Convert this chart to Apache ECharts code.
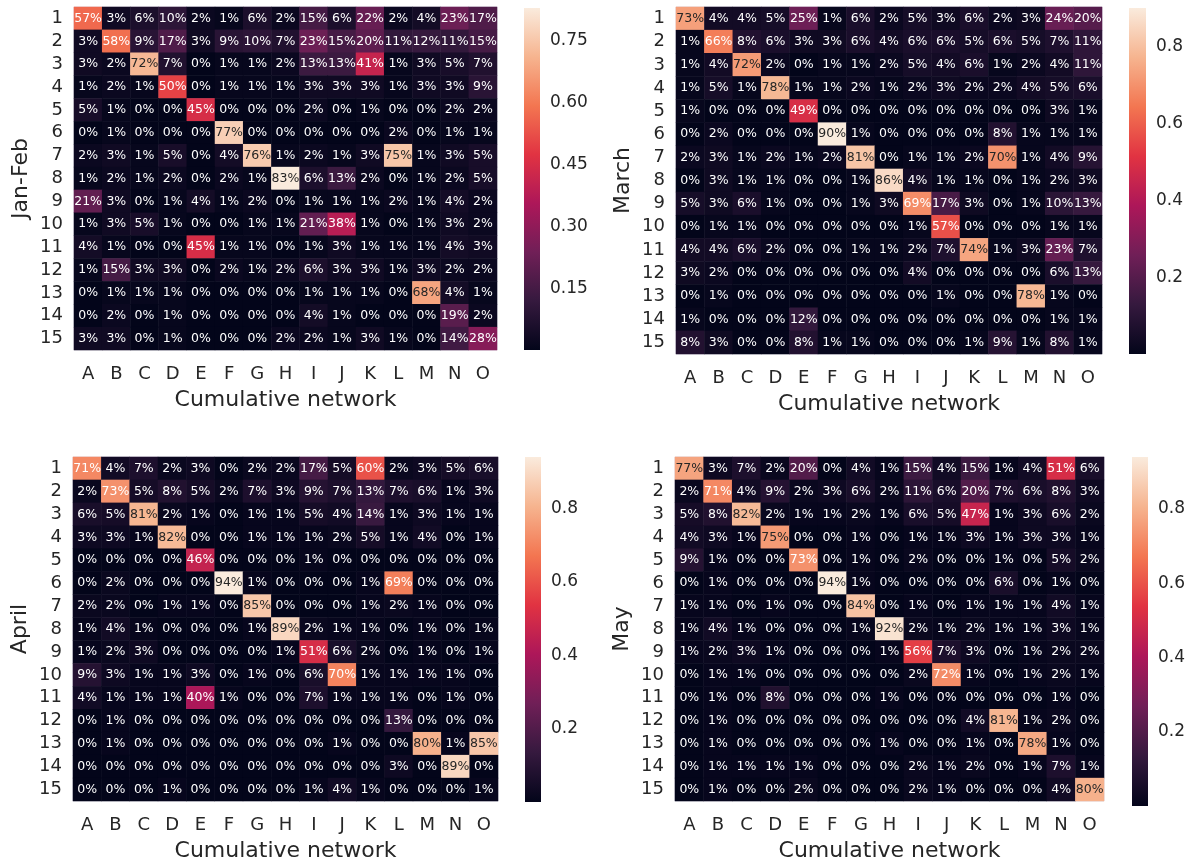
<!DOCTYPE html>
<html><head><meta charset="utf-8">
<script src="https://cdn.jsdelivr.net/npm/echarts@6/dist/echarts.min.js"></script>
<style>html,body{margin:0;padding:0;background:#fff}#c{width:1194px;height:863px}</style>
</head><body><div id="c"></div>
<script>
const xCats = ['A','B','C','D','E','F','G','H','I','J','K','L','M','N','O'];
const yCats = ['1','2','3','4','5','6','7','8','9','10','11','12','13','14','15'];
const xTitle = 'Cumulative network';

const janFeb = [
 [57,3,6,10,2,1,6,2,15,6,22,2,4,23,17],
 [3,58,9,17,3,9,10,7,23,15,20,11,12,11,15],
 [3,2,72,7,0,1,1,2,13,13,41,1,3,5,7],
 [1,2,1,50,0,1,1,1,3,3,3,1,3,3,9],
 [5,1,0,0,45,0,0,0,2,0,1,0,0,2,2],
 [0,1,0,0,0,77,0,0,0,0,0,2,0,1,1],
 [2,3,1,5,0,4,76,1,2,1,3,75,1,3,5],
 [1,2,1,2,0,2,1,83,6,13,2,0,1,2,5],
 [21,3,0,1,4,1,2,0,1,1,1,2,1,4,2],
 [1,3,5,1,0,0,1,1,21,38,1,0,1,3,2],
 [4,1,0,0,45,1,1,0,1,3,1,1,1,4,3],
 [1,15,3,3,0,2,1,2,6,3,3,1,3,2,2],
 [0,1,1,1,0,0,0,0,1,1,1,0,68,4,1],
 [0,2,0,1,0,0,0,0,4,1,0,0,0,19,2],
 [3,3,0,1,0,0,0,2,2,1,3,1,0,14,28]
];
const march = [
 [73,4,4,5,25,1,6,2,5,3,6,2,3,24,20],
 [1,66,8,6,3,3,6,4,6,6,5,6,5,7,11],
 [1,4,72,2,0,1,1,2,5,4,6,1,2,4,11],
 [1,5,1,78,1,1,2,1,2,3,2,2,4,5,6],
 [1,0,0,0,49,0,0,0,0,0,0,0,0,3,1],
 [0,2,0,0,0,90,1,0,0,0,0,8,1,1,1],
 [2,3,1,2,1,2,81,0,1,1,2,70,1,4,9],
 [0,3,1,1,0,0,1,86,4,1,1,0,1,2,3],
 [5,3,6,1,0,0,1,3,69,17,3,0,1,10,13],
 [0,1,1,0,0,0,0,0,1,57,0,0,0,1,1],
 [4,4,6,2,0,0,1,1,2,7,74,1,3,23,7],
 [3,2,0,0,0,0,0,0,4,0,0,0,0,6,13],
 [0,1,0,0,0,0,0,0,0,1,0,0,78,1,0],
 [1,0,0,0,12,0,0,0,0,0,0,0,0,1,1],
 [8,3,0,0,8,1,1,0,0,0,1,9,1,8,1]
];
const april = [
 [71,4,7,2,3,0,2,2,17,5,60,2,3,5,6],
 [2,73,5,8,5,2,7,3,9,7,13,7,6,1,3],
 [6,5,81,2,1,0,1,1,5,4,14,1,3,1,1],
 [3,3,1,82,0,0,1,1,1,2,5,1,4,0,1],
 [0,0,0,0,46,0,0,0,1,0,0,0,0,0,0],
 [0,2,0,0,0,94,1,0,0,0,1,69,0,0,0],
 [2,2,0,1,1,0,85,0,0,0,1,2,1,0,0],
 [1,4,1,0,0,0,1,89,2,1,1,0,1,0,1],
 [1,2,3,0,0,0,0,1,51,6,2,0,1,0,1],
 [9,3,1,1,3,0,1,0,6,70,1,1,1,1,0],
 [4,1,1,1,40,1,0,0,7,1,1,1,0,1,0],
 [0,1,0,0,0,0,0,0,0,0,0,13,0,0,0],
 [0,1,0,0,0,0,0,0,0,1,0,0,80,1,85],
 [0,0,0,0,0,0,0,0,0,0,0,3,0,89,0],
 [0,0,0,1,0,0,0,0,1,4,1,0,0,0,1]
];
const may = [
 [77,3,7,2,20,0,4,1,15,4,15,1,4,51,6],
 [2,71,4,9,2,3,6,2,11,6,20,7,6,8,3],
 [5,8,82,2,1,1,2,1,6,5,47,1,3,6,2],
 [4,3,1,75,0,0,1,0,1,1,3,1,3,3,1],
 [9,1,0,0,73,0,1,0,2,0,0,1,0,5,2],
 [0,1,0,0,0,94,1,0,0,0,0,6,0,1,0],
 [1,1,0,1,0,0,84,0,1,0,1,1,1,4,1],
 [1,4,1,0,0,0,1,92,2,1,2,1,1,3,1],
 [1,2,3,1,0,0,0,1,56,7,3,0,1,2,2],
 [0,1,1,0,0,0,0,0,2,72,1,0,1,2,1],
 [0,1,0,8,0,0,0,1,0,0,0,0,0,1,0],
 [0,1,0,0,0,0,0,0,0,0,4,81,1,2,0],
 [0,1,0,0,0,0,0,1,0,0,1,0,78,1,0],
 [0,1,1,1,1,0,0,0,2,1,2,0,1,7,1],
 [0,1,0,0,2,0,0,0,2,1,0,0,0,4,80]
];
const ticksJanFeb = [0.15, 0.30, 0.45, 0.60, 0.75];
const ticksOther = [0.2, 0.4, 0.6, 0.8];

const rocket = ['#03051A','#35193E','#701F57','#AD1759','#E13342','#F37651','#F6B48F','#FAEBDD'];
function hex2rgb(h){return [parseInt(h.substr(1,2),16),parseInt(h.substr(3,2),16),parseInt(h.substr(5,2),16)];}
const rocketRGB = rocket.map(hex2rgb);
function cmap(t){
  t = Math.max(0, Math.min(1, t));
  const p = t*(rocketRGB.length-1); const i = Math.min(Math.floor(p), rocketRGB.length-2); const f = p-i;
  return rocketRGB[i].map((c,k)=>c+(rocketRGB[i+1][k]-c)*f);
}
function lum(rgb){
  const l = rgb.map(c=>{c/=255; return c<=0.03928? c/12.92 : Math.pow((c+0.055)/1.055,2.4);});
  return 0.2126*l[0]+0.7152*l[1]+0.0722*l[2];
}
const FONT = 'DejaVu Sans';
const TXT = '#262626';

const panels = [
  {name:'Jan-Feb', data:janFeb, ticks:ticksJanFeb, dec:2, g:{left:74,top:7,width:423,height:343}, cb:{left:524,top:8,width:16,height:342}},
  {name:'March', data:march, ticks:ticksOther, dec:1, g:{left:676,top:7,width:426,height:347}, cb:{left:1129,top:8,width:17,height:346}},
  {name:'April', data:april, ticks:ticksOther, dec:1, g:{left:73,top:457,width:425,height:345}, cb:{left:525,top:457,width:16,height:345}},
  {name:'May', data:may, ticks:ticksOther, dec:1, g:{left:675,top:457,width:429,height:349}, cb:{left:1132,top:457,width:16,height:349}}
];

const grid=[], xAxis=[], yAxis=[], series=[], visualMap=[];
panels.forEach((P, k)=>{
  const flat = P.data.flat();
  const vmin = Math.min(...flat), vmax = Math.max(...flat);
  grid.push(Object.assign({show:true, borderColor:'#dcd8e4', borderWidth:1, backgroundColor:'transparent'}, P.g));
  grid.push(Object.assign({show:false}, P.cb));
  const hi = 2*k, ci = 2*k+1;
  xAxis.push({gridIndex:hi, type:'category', data:xCats, axisLine:{show:false}, axisTick:{show:false}, splitLine:{show:false},
    axisLabel:{interval:0, hideOverlap:false, fontFamily:FONT, fontSize:18, color:TXT, margin:15},
    name:xTitle, nameLocation:'middle', nameGap:39, nameTextStyle:{fontFamily:FONT, fontSize:22, color:TXT}});
  yAxis.push({gridIndex:hi, type:'category', data:yCats, inverse:true, axisLine:{show:false}, axisTick:{show:false}, splitLine:{show:false},
    axisLabel:{interval:0, hideOverlap:false, fontFamily:FONT, fontSize:18, color:TXT, margin:11},
    name:P.name, nameLocation:'middle', nameGap:42, nameRotate:90, nameTextStyle:{fontFamily:FONT, fontSize:22, color:TXT}});
  xAxis.push({gridIndex:ci, type:'value', min:0, max:1, show:false});
  yAxis.push({gridIndex:ci, type:'value', min:vmin/100, max:vmax/100, position:'right', axisLine:{show:false}, splitLine:{show:false},
    axisTick:{show:true, length:5, lineStyle:{color:TXT}, customValues:P.ticks},
    axisLabel:{fontFamily:FONT, fontSize:17, color:TXT, margin:10, customValues:P.ticks, formatter:v=>v.toFixed(P.dec)}});
  const items=[];
  P.data.forEach((row,i)=>row.forEach((v,j)=>{
    const t = (v-vmin)/(vmax-vmin);
    const col = lum(cmap(t)) > 0.408 ? TXT : '#ffffff';
    items.push({value:[j,i,v], label:{color:col}});
  }));
  series.push({type:'heatmap', xAxisIndex:hi, yAxisIndex:hi, data:items, progressive:0,
    label:{show:true, fontFamily:FONT, fontSize:12.5, formatter:p=>p.value[2]+'%'},
    emphasis:{disabled:true}});
  visualMap.push({show:false, type:'continuous', seriesIndex:series.length-1, dimension:2, min:vmin, max:vmax, inRange:{color:rocket}});
  const stops = rocket.map((c,m)=>({offset:m/(rocket.length-1), color:c}));
  series.push({type:'custom', xAxisIndex:ci, yAxisIndex:ci, data:[[0, vmin/100, 1, vmax/100]], silent:true,
    renderItem:(params, api)=>{
      const p0 = api.coord([api.value(0), api.value(1)]);
      const p1 = api.coord([api.value(2), api.value(3)]);
      return {type:'rect', shape:{x:p0[0], y:p1[1], width:p1[0]-p0[0], height:p0[1]-p1[1]},
        style:{fill:new echarts.graphic.LinearGradient(0,1,0,0,stops)}};
    }});
});

const chart = echarts.init(document.getElementById('c'), null, {renderer:'canvas'});
chart.setOption({animation:false, backgroundColor:'#fff', grid, xAxis, yAxis, series, visualMap});
</script></body></html>
